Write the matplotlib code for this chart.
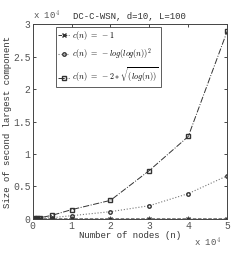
import matplotlib.pyplot as plt
from matplotlib.ticker import FuncFormatter, MultipleLocator
import numpy as np

plt.rcParams['font.family'] = 'Liberation Mono'
plt.rcParams['mathtext.fontset'] = 'cm'

# data
n_nodes = [100, 500, 1000, 2000, 5000, 10000, 20000, 30000, 40000, 50000]
size_c1 = [5, 10, 10, 10, 10, 10, 10, 10, 10, 10]
size_c2 = [10, 40, 80, 120, 200, 500, 1120, 2040, 3900, 6640]
size_c3 = [20, 80, 120, 200, 560, 1430, 2860, 7460, 12700, 28900]

fig, ax = plt.subplots(1, 1, figsize=(2.51, 2.54), dpi=100)
fig.subplots_adjust(left=0.13, right=0.905, top=0.905, bottom=0.138)

ax.plot(n_nodes, size_c1, linestyle='--', color='#333333', marker='x', markersize=2.5,
        linewidth=0.7, label=r'$c(n)\ =\ -1$')
ax.plot(n_nodes, size_c2, linestyle=':', color='#777777', marker='o', markersize=2.5,
        markerfacecolor='none', markeredgecolor='#333333', linewidth=0.8,
        label=r'$c(n)\ =\ -log(log(n))^2$')
ax.plot(n_nodes, size_c3, linestyle='-.', color='#333333', marker='s', markersize=2.5,
        markerfacecolor='none', linewidth=0.7, label=r'$c(n)\ =\ -2*\sqrt{(log(n))}$')

ax.set_xlim(0, 50000)
ax.set_ylim(0, 30000)
ax.xaxis.set_major_locator(MultipleLocator(10000))
ax.yaxis.set_major_locator(MultipleLocator(5000))
scaled = FuncFormatter(lambda v, p: '%g' % (v / 1e4))
ax.xaxis.set_major_formatter(scaled)
ax.yaxis.set_major_formatter(scaled)

ax.text(0.0, 1.01, r'x 10$^4$', transform=ax.transAxes, fontsize=6.5,
        color='#555555', ha='left', va='bottom')
ax.text(0.97, -0.12, r'x 10$^4$', transform=ax.transAxes, fontsize=6.5,
        color='#555555', ha='right', va='center')

ax.tick_params(axis='both', direction='in', top=True, right=True, labelsize=7,
               labelcolor='#555555', length=2.5, width=0.5, pad=1.5)
for s in ax.spines.values():
    s.set_linewidth(0.7)
    s.set_color('#444444')

ax.set_title('DC-C-WSN, d=10, L=100', fontsize=6.5, color='#333333', pad=4)
ax.set_xlabel('Number of nodes (n)', fontsize=6.5, color='#333333', labelpad=0)
ax.set_ylabel('Size of second largest component', fontsize=6.5, color='#333333', labelpad=1)

leg = ax.legend(loc='upper left', bbox_to_anchor=(0.11, 0.995), fontsize=5.8,
                frameon=True, fancybox=False, edgecolor='#333333', handlelength=1.4,
                handletextpad=0.3, borderpad=0.3, labelspacing=0.55, borderaxespad=0.2)
leg.get_frame().set_linewidth(0.7)

plt.savefig('out.png', dpi=100)
